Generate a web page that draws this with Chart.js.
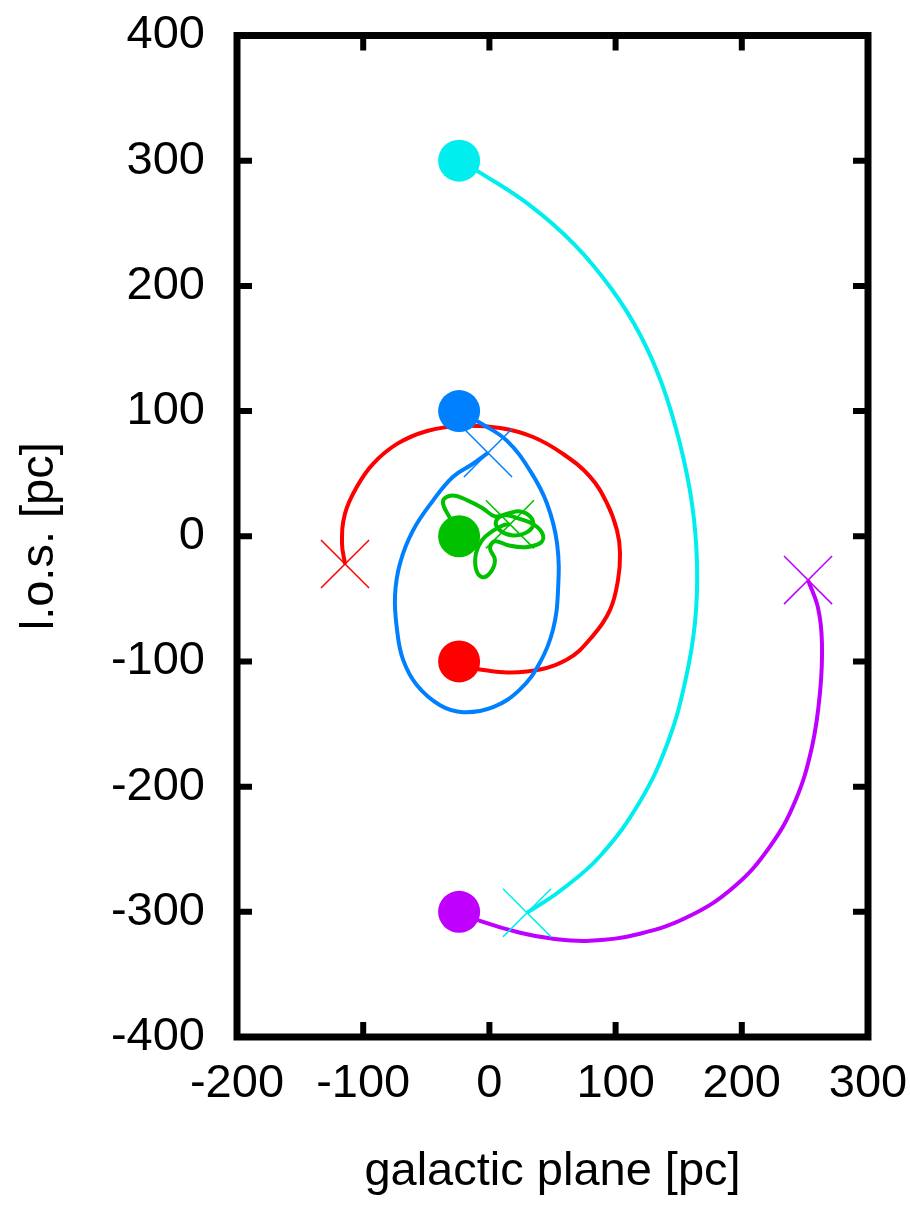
<!DOCTYPE html>
<html>
<head>
<meta charset="utf-8">
<title>Orbits</title>
<script src="https://cdn.jsdelivr.net/npm/chart.js@4/dist/chart.umd.min.js"></script>
<style>
    html, body { margin: 0; padding: 0; background: #fff; }
    canvas { display: block; }
</style>
</head>
<body>
<canvas id="orbitChart" width="910" height="1205"></canvas>
<script>
// axis ticks
const xTicks = [-200, -100, 0, 100, 200, 300];
const yTicks = [-400, -300, -200, -100, 0, 100, 200, 300, 400];

// orbits (galactic plane, l.o.s.) in pc
const redX = [-24, -7.5, 29.8, 61.5, 82.1, 95.6, 101.9, 103.5, 101.1, 93.2, 79.7, 58.3, 34.6, 8.4, -23.3, -49.4, -73.2, -92.2, -104.9, -114.4, -116.8, -114.4];
const redY = [-100, -106.4, -108, -98.4, -79.4, -58.8, -35, -13.5, 4.7, 26.2, 47.6, 65.8, 79.3, 86.5, 88.1, 84.1, 73.8, 57.9, 39.7, 18.2, -5.6, -22.2];

const blueX = [-24, -5.9, 14, 32.2, 45.6, 53.6, 54.4, 50.4, 40.1, 24.3, 2.9, -20.9, -39.1, -57.4, -68.5, -73.2, -74.8, -70.8, -60.5, -44.7, -28.8, -13, -1.1];
const blueY = [100, 89.7, 76.2, 52.4, 26.2, -5.6, -42.9, -74.6, -100.8, -122.3, -136.5, -140.5, -135, -119.1, -98.4, -74.6, -47.6, -21.5, 4.7, 28.5, 47.6, 57.9, 66.6];

const greenX = [-24, -31.2, -36.8, -29.6, -17, -5.1, 4.4, 14.7, 24.3, 32.2, 34.6, 28.2, 17.9, 8.4, 5.2, 12.4, 22.7, 36.1, 42.5, 40.1, 28.2, 14.7, 4.4, 0.5, 4.4, 0.5, -5.9, -10.6, -10.6, -5.9, 2.1, 10.8, 16.3];
const greenY = [0, 14.3, 27.8, 32.5, 28.5, 22.2, 15.9, 18.2, 19.8, 15.9, 8.7, 2.4, 0.8, 4.7, 11.9, 16.7, 14.3, 8.7, 0.8, -5.6, -8.7, -7.2, -4, -9.5, -19.1, -29.4, -32.6, -26.2, -13.5, -3.2, 3.9, 8.7, 9.5];

const cyanX = [-24, -7.5, 32.1, 67.8, 97.2, 119.3, 136.8, 151, 160.5, 164.5, 162.9, 155, 141.5, 119.3, 87.6, 55.9, 29.8];
const cyanY = [300, 290.5, 264.3, 232.6, 196.9, 161.2, 121.4, 73.8, 26.2, -21.5, -69.1, -116.7, -164.3, -211.9, -255.6, -283.4, -300.8];

const purpleX = [-24, -7.5, 24.3, 50.4, 79.7, 119.3, 159, 194.6, 222.4, 242.2, 255.6, 262, 263.5, 260.4, 252.5];
const purpleY = [-300, -307.2, -316.7, -321.5, -323.1, -317.5, -303.2, -279.4, -247.7, -211.9, -168.3, -124.6, -85, -57.2, -35];

const colors = {
    red: '#ff0000',
    blue: '#0080ff',
    green: '#00c000',
    cyan: '#00eeee',
    purple: '#c000ff'
};

const orbits = [
    { name: 'blue', xs: blueX, ys: blueY },
    { name: 'green', xs: greenX, ys: greenY },
    { name: 'red', xs: redX, ys: redY },
    { name: 'cyan', xs: cyanX, ys: cyanY },
    { name: 'purple', xs: purpleX, ys: purpleY }
];

function toPoints(xs, ys) {
    return xs.map((x, i) => ({ x: x, y: ys[i] }));
}

const datasets = [];
// start markers (filled) and end markers (crosses) on top of the tracks
orbits.forEach(o => {
    const last = o.xs.length - 1;
    datasets.push({
        label: o.name + ' start',
        data: [{ x: o.xs[0], y: o.ys[0] }],
        pointStyle: 'circle',
        pointRadius: 21,
        backgroundColor: colors[o.name],
        borderColor: colors[o.name],
        borderWidth: 0,
        showLine: false
    });
    datasets.push({
        label: o.name + ' end',
        data: [{ x: o.xs[last], y: o.ys[last] }],
        pointStyle: 'crossRot',
        pointRadius: 34,
        borderColor: colors[o.name],
        borderWidth: 1.5,
        showLine: false
    });
});
orbits.forEach(o => {
    datasets.push({
        label: o.name,
        data: toPoints(o.xs, o.ys),
        showLine: true,
        borderColor: colors[o.name],
        borderWidth: 4,
        pointRadius: 0,
        tension: 0.4,
        fill: false
    });
});

// frame with inward ticks on all four sides
const framePlugin = {
    id: 'frame',
    afterDraw(chart) {
        const { ctx, chartArea: a, scales } = chart;
        ctx.save();
        ctx.strokeStyle = '#000';
        ctx.lineWidth = 6;
        ctx.lineCap = 'butt';
        ctx.beginPath();
        xTicks.forEach(v => {
            const px = scales.x.getPixelForValue(v);
            ctx.moveTo(px, a.bottom); ctx.lineTo(px, a.bottom - 15);
            ctx.moveTo(px, a.top); ctx.lineTo(px, a.top + 15);
        });
        yTicks.forEach(v => {
            const py = scales.y.getPixelForValue(v);
            ctx.moveTo(a.left, py); ctx.lineTo(a.left + 15, py);
            ctx.moveTo(a.right, py); ctx.lineTo(a.right - 15, py);
        });
        ctx.stroke();
        ctx.lineWidth = 7;
        ctx.lineJoin = 'miter';
        ctx.strokeRect(a.left, a.top, a.right - a.left, a.bottom - a.top);
        ctx.restore();
    }
};

const font = { family: '"Liberation Sans", Arial, Helvetica, sans-serif', size: 47 };

// invisible tick marks are used as the gap between frame and labels
function gap(len) {
    return { display: true, drawOnChartArea: false, drawTicks: true, tickLength: len, tickColor: 'rgba(0,0,0,0)' };
}

new Chart(document.getElementById('orbitChart'), {
    type: 'scatter',
    data: { datasets: datasets },
    options: {
        responsive: false,
        animation: false,
        layout: { padding: { top: 29, right: 42, left: 0, bottom: 0 } },
        plugins: {
            legend: { display: false },
            tooltip: { enabled: false }
        },
        scales: {
            x: {
                type: 'linear',
                min: -200,
                max: 300,
                grid: gap(19),
                border: { display: false },
                afterBuildTicks: s => { s.ticks = xTicks.map(v => ({ value: v })); },
                afterFit: s => { s.height = 168; },
                ticks: { font: font, color: '#000', padding: 0, maxRotation: 0, autoSkip: false },
                title: { display: true, text: 'galactic plane [pc]', font: font, color: '#000', padding: { top: 0, bottom: 5 } }
            },
            y: {
                type: 'linear',
                min: -400,
                max: 400,
                grid: gap(32),
                border: { display: false },
                afterBuildTicks: s => { s.ticks = yTicks.map(v => ({ value: v })); },
                afterFit: s => { s.width = 237; },
                ticks: { font: font, color: '#000', padding: 0, autoSkip: false },
                title: { display: true, text: 'l.o.s. [pc]', font: font, color: '#000', padding: { top: 12, bottom: 0 } }
            }
        }
    },
    plugins: [framePlugin]
});
</script>
</body>
</html>
